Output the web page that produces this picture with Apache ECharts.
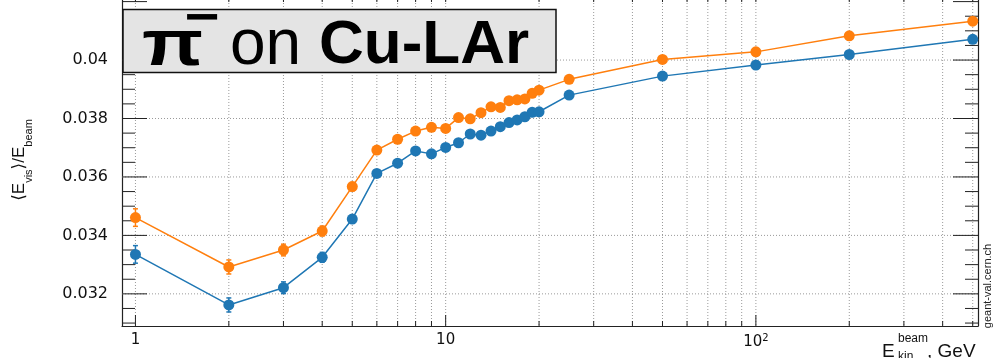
<!DOCTYPE html>
<html>
<head>
<meta charset="utf-8">
<script src="https://cdn.jsdelivr.net/npm/echarts@6/dist/echarts.min.js"></script>
<style>
  html, body { margin: 0; padding: 0; background: #fff; }
  #chart { width: 994px; height: 358px; }
</style>
</head>
<body>
<div id="chart"></div>
<script>
// Beam kinetic energies (GeV)
const energies = [1, 2, 3, 4, 5, 6, 7, 8, 9, 10, 11, 12, 13, 14, 15, 16, 17, 18, 19, 20, 25, 50, 100, 200, 500];

// Visible energy fraction <E_vis>/E_beam, first physics list (orange)
const visFracA = [0.03461, 0.03292, 0.03350, 0.03415, 0.03567, 0.03692, 0.03729, 0.03757, 0.03770, 0.03766,
                  0.03803, 0.03799, 0.03820, 0.03840, 0.03838, 0.03861, 0.03864, 0.03867, 0.03886, 0.03897,
                  0.03934, 0.04002, 0.04028, 0.04083, 0.04133];
const visFracAErr = [0.00030, 0.00024, 0.00020, 0.00017, 0.00014, 0.00012, 0.00012, 0.00011, 0.00011, 0.00010,
                     0.00010, 0.00010, 0.00010, 0.00010, 0.00010, 0.00010, 0.00010, 0.00010, 0.00010, 0.00010,
                     0.00009, 0.00008, 0.00007, 0.00006, 0.00006];

// Visible energy fraction, second physics list (blue)
const visFracB = [0.03335, 0.03162, 0.03221, 0.03325, 0.03456, 0.03612, 0.03647, 0.03689, 0.03679, 0.03701,
                  0.03717, 0.03747, 0.03743, 0.03757, 0.03772, 0.03786, 0.03795, 0.03806, 0.03821, 0.03823,
                  0.03880, 0.03945, 0.03983, 0.04019, 0.04071];
const visFracBErr = [0.00030, 0.00024, 0.00020, 0.00017, 0.00014, 0.00012, 0.00012, 0.00011, 0.00011, 0.00010,
                     0.00010, 0.00010, 0.00010, 0.00010, 0.00010, 0.00010, 0.00010, 0.00010, 0.00010, 0.00010,
                     0.00009, 0.00008, 0.00007, 0.00006, 0.00006];

// Axis ticks and labels
const xLabelValues = [1, 10, 100];
const xTickLabels = ['1', '10', '10{sup|2}'];
const xGridValues = [1, 2, 3, 4, 5, 6, 7, 8, 9, 10, 20, 30, 40, 50, 60, 70, 80, 90, 100, 200, 300, 400, 500];
const yLabelValues = [0.032, 0.034, 0.036, 0.038, 0.040];
const yTickLabels = ['0.032', '0.034', '0.036', '0.038', '0.04'];
const yMinorStep = 0.0005;

const X_MIN = 0.905, X_MAX = 520;
const Y_MIN = 0.0309, Y_MAX = 0.04226;

const ORANGE = '#ff7f0e';
const BLUE = '#1f77b4';
const FONT = '"Liberation Sans", "DejaVu Sans", Arial, sans-serif';
const TICK_FONT = '"DejaVu Sans", "Liberation Sans", sans-serif';

const yTickValues = [];
for (let k = Math.ceil(Y_MIN / yMinorStep); k * yMinorStep <= Y_MAX + 1e-12; k++) {
  yTickValues.push(+(k * yMinorStep).toFixed(5));
}

function isMajorY(v) {
  return yLabelValues.some(t => Math.abs(t - v) < 1e-9) || Math.abs(v - 0.042) < 1e-9;
}
function isDecade(v) {
  const l = Math.log10(v);
  return Math.abs(l - Math.round(l)) < 1e-9;
}

const gridDash = { stroke: '#9a9a9a', lineWidth: 1, lineDash: [1, 2] };
const tickStyle = { stroke: '#222', lineWidth: 1 };

// Vertical dotted grid plus bottom/top ticks at 1..9 x 10^n
function renderXGrid(params, api) {
  const v = api.value(0);
  const cs = params.coordSys;
  const px = api.coord([v, Y_MIN])[0];
  const top = cs.y, bottom = cs.y + cs.height;
  const major = isDecade(v);
  return {
    type: 'group',
    children: [
      { type: 'line', shape: { x1: px, y1: top, x2: px, y2: bottom }, style: gridDash },
      { type: 'line', shape: { x1: px, y1: bottom, x2: px, y2: bottom - (major ? 11 : 5) }, style: tickStyle },
      { type: 'line', shape: { x1: px, y1: top, x2: px, y2: top + 8 }, style: tickStyle }
    ]
  };
}

// Horizontal dotted grid at labelled values, ticks on left and right frame
function renderYGrid(params, api) {
  const v = api.value(1);
  const cs = params.coordSys;
  const py = api.coord([energies[0], v])[1];
  const left = cs.x, right = cs.x + cs.width;
  const major = isMajorY(v);
  const len = major ? 25 : 13;
  const children = [
    { type: 'line', shape: { x1: left, y1: py, x2: left + len, y2: py }, style: tickStyle },
    { type: 'line', shape: { x1: right, y1: py, x2: right - len, y2: py }, style: tickStyle }
  ];
  if (yLabelValues.some(t => Math.abs(t - v) < 1e-9)) {
    children.unshift({ type: 'line', shape: { x1: left, y1: py, x2: right, y2: py }, style: gridDash });
  }
  return { type: 'group', children };
}

function renderErrors(color) {
  return function (params, api) {
    const x = api.value(0), y = api.value(1), e = api.value(2);
    const hi = api.coord([x, y + e]);
    const lo = api.coord([x, y - e]);
    const st = { stroke: color, lineWidth: 1.5 };
    return {
      type: 'group',
      children: [
        { type: 'line', shape: { x1: hi[0], y1: hi[1], x2: lo[0], y2: lo[1] }, style: st },
        { type: 'line', shape: { x1: hi[0] - 2.5, y1: hi[1], x2: hi[0] + 2.5, y2: hi[1] }, style: st },
        { type: 'line', shape: { x1: lo[0] - 2.5, y1: lo[1], x2: lo[0] + 2.5, y2: lo[1] }, style: st }
      ]
    };
  };
}

const chart = echarts.init(document.getElementById('chart'), null, { renderer: 'canvas' });

const option = {
  animation: false,
  backgroundColor: '#ffffff',
  grid: { left: 122, right: 16, top: -6, bottom: 32, containLabel: false, outerBoundsMode: 'none' },
  xAxis: {
    type: 'log',
    logBase: 10,
    min: X_MIN,
    max: X_MAX,
    axisLine: { show: true, lineStyle: { color: '#222', width: 1.2 } },
    axisTick: { show: false },
    splitLine: { show: false },
    minorTick: { show: false },
    axisLabel: {
      margin: 7,
      fontFamily: TICK_FONT,
      fontSize: 15,
      color: '#111',
      formatter: function (v) {
        const i = xLabelValues.findIndex(t => Math.abs(t - v) / t < 1e-6);
        return i >= 0 ? xTickLabels[i] : '';
      },
      rich: {
        sup: { fontFamily: TICK_FONT, fontSize: 10, verticalAlign: 'top', padding: [0, 0, 8, 0] }
      }
    }
  },
  yAxis: [
    {
      type: 'value',
      min: Y_MIN,
      max: Y_MAX,
      axisLine: { show: true, lineStyle: { color: '#222', width: 1.2 } },
      axisTick: { show: false },
      splitLine: { show: false },
      axisLabel: {
        margin: 14,
        fontFamily: TICK_FONT,
        fontSize: 16,
        color: '#111',
        showMinLabel: false,
        showMaxLabel: false,
        formatter: function (v) {
          const i = yLabelValues.findIndex(t => Math.abs(t - v) < 1e-9);
          return i >= 0 ? yTickLabels[i] : '';
        }
      },
      name: '⟨E{sub|vis}⟩/E{sub|beam}',
      nameLocation: 'middle',
      nameRotate: 90,
      nameGap: 88,
      nameTextStyle: {
        fontFamily: FONT,
        fontSize: 17,
        color: '#111',
        lineHeight: 30,
        rich: {
          sub: { fontFamily: FONT, fontSize: 11, lineHeight: 30, verticalAlign: 'bottom', color: '#111' }
        }
      }
    },
    {
      type: 'value',
      position: 'right',
      min: Y_MIN,
      max: Y_MAX,
      axisLine: { show: true, lineStyle: { color: '#222', width: 1.2 } },
      axisTick: { show: false },
      axisLabel: { show: false },
      splitLine: { show: false }
    }
  ],
  series: [
    {
      type: 'custom',
      name: 'xGrid',
      silent: true,
      z: 1,
      renderItem: renderXGrid,
      encode: { x: 0, y: 1 },
      data: xGridValues.map(v => [v, Y_MIN])
    },
    {
      type: 'custom',
      name: 'yGrid',
      silent: true,
      z: 1,
      renderItem: renderYGrid,
      encode: { x: 0, y: 1 },
      data: yTickValues.map(v => [energies[0], v])
    },
    {
      type: 'custom',
      name: 'errA',
      silent: true,
      z: 3,
      renderItem: renderErrors(ORANGE),
      encode: { x: 0, y: 1 },
      data: energies.map((e, i) => [e, visFracA[i], visFracAErr[i]])
    },
    {
      type: 'custom',
      name: 'errB',
      silent: true,
      z: 3,
      renderItem: renderErrors(BLUE),
      encode: { x: 0, y: 1 },
      data: energies.map((e, i) => [e, visFracB[i], visFracBErr[i]])
    },
    {
      type: 'line',
      name: 'listA',
      z: 4,
      data: energies.map((e, i) => [e, visFracA[i]]),
      symbol: 'circle',
      symbolSize: 11,
      showAllSymbol: true,
      itemStyle: { color: ORANGE },
      lineStyle: { color: ORANGE, width: 1.5 }
    },
    {
      type: 'line',
      name: 'listB',
      z: 4,
      data: energies.map((e, i) => [e, visFracB[i]]),
      symbol: 'circle',
      symbolSize: 11,
      showAllSymbol: true,
      itemStyle: { color: BLUE },
      lineStyle: { color: BLUE, width: 1.5 }
    }
  ],
  graphic: [
    // Title box
    {
      type: 'rect', z: 100,
      shape: { x: 123, y: 9.5, width: 433, height: 63 },
      style: { fill: '#e4e4e4', stroke: '#111', lineWidth: 1.5 }
    },
    {
      type: 'text', z: 101, x: 142, y: 47, scaleX: 1.25,
      style: { text: 'π', font: 'bold 64px "Liberation Sans"', fill: '#000', align: 'left', verticalAlign: 'middle' }
    },
    {
      type: 'text', z: 101, x: 202, y: 20,
      style: { text: '−', font: 'bold 48px "DejaVu Sans"', fill: '#000', align: 'center', verticalAlign: 'middle' }
    },
    {
      type: 'text', z: 101, x: 230, y: 46,
      style: { text: 'on', font: '64px "Liberation Sans"', fill: '#000', align: 'left', verticalAlign: 'middle' }
    },
    {
      type: 'text', z: 101, x: 319, y: 46,
      style: { text: 'Cu-LAr', font: 'bold 62px "Liberation Sans"', fill: '#000', align: 'left', verticalAlign: 'middle' }
    },
    // X axis title
    {
      type: 'text', z: 101, x: 882, y: 352,
      style: { text: 'E', font: '19px "Liberation Sans"', fill: '#111', align: 'left', verticalAlign: 'middle' }
    },
    {
      type: 'text', z: 101, x: 898, y: 339,
      style: { text: 'beam', font: '12px "Liberation Sans"', fill: '#111', align: 'left', verticalAlign: 'middle' }
    },
    {
      type: 'text', z: 101, x: 898, y: 357,
      style: { text: 'kin', font: '12px "Liberation Sans"', fill: '#111', align: 'left', verticalAlign: 'middle' }
    },
    {
      type: 'text', z: 101, x: 927, y: 352,
      style: { text: ', GeV', font: '19px "Liberation Sans"', fill: '#111', align: 'left', verticalAlign: 'middle' }
    },
    // Site tag
    {
      type: 'text', z: 101, x: 988, y: 286, rotation: Math.PI / 2,
      style: { text: 'geant-val.cern.ch', font: '11px "Liberation Sans"', fill: '#222', align: 'center', verticalAlign: 'middle' }
    }
  ]
};

chart.setOption(option);
</script>
</body>
</html>
